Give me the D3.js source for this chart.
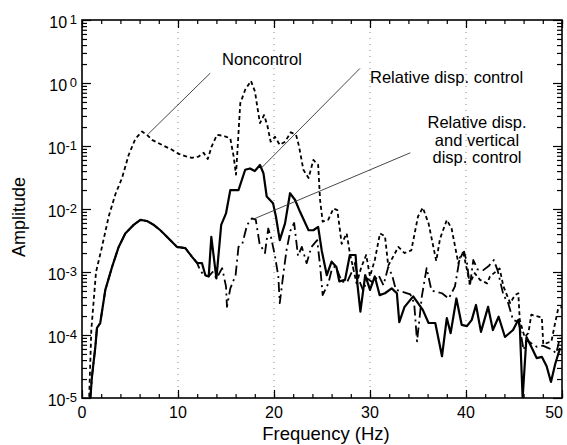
<!DOCTYPE html>
<html>
<head>
<meta charset="utf-8">
<script src="https://cdn.jsdelivr.net/npm/d3@7"></script>
<style>
  html, body { margin: 0; padding: 0; background: #fff; }
  svg { display: block; font-family: "Liberation Sans", Arial, Helvetica, sans-serif; }
</style>
</head>
<body>
<svg id="chart" width="567" height="445"></svg>
<script>
// ---------------- DATA ----------------
const xTicks = [0, 10, 20, 30, 40, 50];
const yDecades = [-5, -4, -3, -2, -1, 0, 1];
const xLabel = "Frequency (Hz)";
const yLabel = "Amplitude";

const noncontrolFreq = [0.75,0.97,1.46,2.08,2.78,3.47,4.17,4.86,5.56,6.25,6.77,7.29,8.33,9.38,10.07,10.76,11.46,12.15,12.67,13.1,13.5,14.06,14.76,15.45,15.8,16.04,16.49,17.0,17.6,18.02,18.26,18.54,18.96,19.3,19.65,20.1,20.6,21.15,21.75,22.3,22.6,23.06,23.6,24.1,24.6,24.8,25.07,25.66,26.2,26.6,27.05,27.57,27.9,28.6,29.1,29.6,30.0,30.5,31.04,31.56,31.9,32.4,32.95,33.6,34.3,35.0,35.5,36.1,36.9,37.3,38.0,38.5,39.2,39.7,40.4,40.9,41.46,42.2,42.5,43.5,43.9,44.6,45.1,45.45,45.6,46.1,46.5,46.8,47.9,48.05,48.9,49.2,49.6,50.0];
const noncontrolAmp = [1.05e-5,1.2e-4,1.0e-3,2.5e-3,7.6e-3,1.7e-2,3.1e-2,7.2e-2,0.13,0.17,0.15,0.125,0.104,0.087,0.075,0.069,0.065,0.068,0.078,0.062,0.098,0.15,0.145,0.132,0.068,0.035,0.48,0.78,1.08,0.73,0.42,0.23,0.31,0.215,0.117,0.14,0.104,0.117,0.165,0.15,0.1,0.042,0.031,0.06,0.05,0.0139,0.0063,0.0068,0.0102,0.0096,0.0028,0.0041,0.002,0.00066,0.0012,0.00186,0.00085,0.00155,0.0041,0.0037,0.00126,0.00174,0.0025,0.002,0.0022,0.0076,0.0105,0.0059,0.0015,0.0034,0.0067,0.0049,0.00138,0.0021,0.00066,0.00096,0.00075,0.00066,0.00085,0.00114,0.00059,0.00032,0.00043,0.00046,0.000174,9.3e-5,1.07e-4,2.1e-4,1.9e-4,7.1e-5,7.9e-5,1.35e-4,2.6e-4,2.8e-4];

const relFreq = [0.87,1.04,1.39,1.56,1.9,2.43,3.13,3.82,4.51,5.38,6.08,6.77,7.47,8.16,9.03,9.9,10.76,11.46,11.98,12.5,12.85,13.2,13.47,14.0,14.5,15.0,15.45,16.3,17.0,17.5,18.0,18.54,18.9,19.24,19.9,20.2,20.6,21.15,21.67,22.2,22.7,23.6,24.1,24.6,24.97,25.5,26.0,26.5,26.8,27.4,27.9,28.5,28.7,29.0,29.5,30.0,30.5,31.0,31.56,32.26,32.8,33.05,33.6,34.5,35.5,36.1,36.8,37.5,38.0,38.4,39.0,39.55,40.1,40.6,41.04,41.56,42.3,42.8,43.4,44.06,44.9,45.45,45.6,45.9,46.3,46.8,47.36,47.9,48.4,48.85,49.3,49.8];
const relAmp = [1.0e-5,2.2e-5,6.5e-5,1.3e-4,1.55e-4,5.2e-4,1.2e-3,2.5e-3,4.1e-3,5.6e-3,6.7e-3,6.45e-3,5.6e-3,4.6e-3,3.4e-3,2.5e-3,2.4e-3,1.74e-3,1.4e-3,1.38e-3,8.9e-4,8.5e-4,3.6e-3,7.9e-4,5.6e-3,8.5e-3,0.02,0.02,0.042,0.044,0.04,0.05,0.037,0.0158,0.0123,0.0076,0.0032,0.0059,0.0178,0.0139,0.0091,0.0046,0.0046,0.0052,0.0022,0.00089,0.00146,0.0012,0.00071,0.00075,0.00186,0.00186,0.00062,0.000235,0.00089,0.00052,0.00085,0.00043,0.00046,0.00055,0.00046,0.00016,0.00028,0.00041,0.00025,0.000155,0.000155,4.6e-5,1.86e-4,1.07e-4,3.8e-4,1.45e-4,1.38e-4,1.74e-4,3.0e-4,1.12e-4,2.8e-4,1.2e-4,1.95e-4,9.3e-5,1.2e-4,1.74e-4,1.4e-4,1.0e-5,9.3e-5,6.5e-5,4.3e-5,4.5e-5,3.2e-5,1.8e-5,3.5e-5,6.2e-5];

const relVertFreq = [0.87,1.04,1.39,1.56,1.9,2.43,3.13,3.82,4.51,5.38,6.08,6.77,7.47,8.16,9.03,9.9,10.76,11.46,11.98,12.3,12.7,13.2,13.6,14.0,14.6,15.0,15.1,15.45,16.0,16.3,16.7,17.2,17.7,18.1,18.5,19.06,19.4,19.7,20.1,20.45,20.6,21.0,21.3,21.7,22.1,22.5,22.9,23.4,23.9,24.5,24.8,25.07,25.66,26.0,26.4,27.05,27.6,28.1,28.4,28.8,29.3,29.7,30.3,30.9,31.4,31.9,32.3,32.7,33.3,34.2,34.6,34.9,35.4,35.9,36.4,37.5,38.2,38.85,39.4,39.8,40.1,40.4,40.76,41.2,41.8,42.4,42.9,43.3,43.9,44.4,44.9,45.5,46.0,46.3,46.8,47.36,48.0,48.6,49.0,49.4,49.8];
const relVertAmp = [1.0e-5,2.2e-5,6.5e-5,1.3e-4,1.55e-4,5.2e-4,1.2e-3,2.5e-3,4.1e-3,5.6e-3,6.7e-3,6.45e-3,5.6e-3,4.6e-3,3.4e-3,2.5e-3,2.4e-3,1.74e-3,1.4e-3,1.07e-3,8.9e-4,8.5e-4,1.0e-3,7.9e-4,1.15e-3,5.9e-4,2.8e-4,5.5e-4,8.9e-4,2.5e-3,2.8e-3,5.6e-3,7.1e-3,6.8e-3,2.8e-3,2.0e-3,4.9e-3,3.5e-3,1.8e-3,8.5e-4,3.2e-4,1.0e-3,2.2e-3,4.5e-3,6.0e-3,1.8e-3,2.5e-3,1.38e-3,2.5e-3,3.2e-3,1.26e-3,4.3e-4,6.6e-4,1.07e-3,1.26e-3,7.1e-4,6.8e-4,1.0e-3,1.4e-3,7.9e-4,5.0e-4,7.9e-4,6.8e-4,8.9e-4,6.2e-4,1.2e-3,8.9e-4,5.2e-4,4.9e-4,4.4e-4,3.2e-4,7.9e-5,4.1e-4,1.15e-3,5.1e-4,4.6e-4,3.8e-4,5.9e-4,1.86e-3,2.1e-3,1.4e-3,5.9e-4,1.55e-3,1.1e-3,1.07e-3,1.26e-3,1.55e-3,1.05e-3,4.3e-4,3.2e-4,1.74e-4,1.6e-4,5.8e-5,8.3e-5,7.4e-5,6.5e-5,6.8e-5,6.2e-5,5.8e-5,5.1e-5,9.3e-5];

const seriesNames = ["Noncontrol", "Relative disp. control", "Relative disp. and vertical disp. control"];

const annoNonLines = ["Noncontrol"];
const annoRelLines = ["Relative disp. control"];
const annoRelVertLines = ["Relative disp.", "and vertical", "disp. control"];

// ---------------- CHART ----------------
const svg = d3.select("#chart");
const M = {left: 82, right: 562, top: 20, bottom: 398};
const x = d3.scaleLinear().domain([0, 50]).range([M.left, M.right]);
const y = d3.scaleLog().domain([1e-5, 10]).range([M.bottom, M.top]);

svg.append("defs").append("clipPath").attr("id", "clip")
  .append("rect").attr("x", M.left).attr("y", M.top)
  .attr("width", M.right - M.left).attr("height", M.bottom - M.top);

// dotted vertical grid
svg.append("g").selectAll("line").data(xTicks.slice(1, -1)).join("line")
  .attr("x1", d => x(d)).attr("x2", d => x(d))
  .attr("y1", M.top).attr("y2", M.bottom)
  .attr("stroke", "#888").attr("stroke-width", 1).attr("stroke-dasharray", "1,5");

const minorY = [];
yDecades.slice(0, -1).forEach(e => { for (let k = 2; k <= 9; k++) minorY.push(k * Math.pow(10, e)); });
const majorY = yDecades.map(e => Math.pow(10, e));
const minorX = d3.range(0, 51, 2);

function styleAxis(g) {
  g.select(".domain").remove();
  g.selectAll(".tick line").attr("stroke", "#000").attr("stroke-width", 1.2);
  g.selectAll(".tick text").remove();
}
svg.append("g").attr("transform", `translate(0,${M.bottom})`)
  .call(d3.axisBottom(x).tickValues(minorX).tickSize(-4)).call(styleAxis);
svg.append("g").attr("transform", `translate(0,${M.bottom})`)
  .call(d3.axisBottom(x).tickValues(xTicks).tickSize(-8)).call(styleAxis);
svg.append("g").attr("transform", `translate(0,${M.top})`)
  .call(d3.axisTop(x).tickValues(minorX).tickSize(-4)).call(styleAxis);
svg.append("g").attr("transform", `translate(0,${M.top})`)
  .call(d3.axisTop(x).tickValues(xTicks).tickSize(-8)).call(styleAxis);
svg.append("g").attr("transform", `translate(${M.left},0)`)
  .call(d3.axisLeft(y).tickValues(minorY).tickSize(-5)).call(styleAxis);
svg.append("g").attr("transform", `translate(${M.left},0)`)
  .call(d3.axisLeft(y).tickValues(majorY).tickSize(-9)).call(styleAxis);
svg.append("g").attr("transform", `translate(${M.right},0)`)
  .call(d3.axisRight(y).tickValues(minorY).tickSize(-5)).call(styleAxis);
svg.append("g").attr("transform", `translate(${M.right},0)`)
  .call(d3.axisRight(y).tickValues(majorY).tickSize(-9)).call(styleAxis);

// frame
svg.append("rect").attr("x", M.left).attr("y", M.top)
  .attr("width", M.right - M.left).attr("height", M.bottom - M.top)
  .attr("fill", "none").attr("stroke", "#000").attr("stroke-width", 1.6);

// x tick labels (last one kept inside the page)
svg.append("g").selectAll("text").data(xTicks).join("text")
  .attr("x", (d, i) => i === xTicks.length - 1 ? x(d) + 1 : x(d))
  .attr("y", M.bottom + 20)
  .attr("text-anchor", (d, i) => i === xTicks.length - 1 ? "end" : "middle")
  .attr("font-size", 16).attr("fill", "#000")
  .text(d => d);

// y tick labels 10^e
const yl = svg.append("g").selectAll("text").data(yDecades).join("text")
  .attr("x", 77).attr("y", d => y(Math.pow(10, d)) + 8)
  .attr("text-anchor", "end").attr("font-size", 16).attr("fill", "#000");
yl.append("tspan").text("10");
yl.append("tspan").attr("dy", -4).attr("font-size", 13)
  .text(d => d >= 0 ? "\u2009" + d : "-" + Math.abs(d));

// axis titles
svg.append("text").attr("x", 326).attr("y", 440)
  .attr("text-anchor", "middle").attr("font-size", 18.5).text(xLabel);
svg.append("text").attr("transform", `translate(25,${(M.top + M.bottom) / 2 + 8}) rotate(-90)`)
  .attr("text-anchor", "middle").attr("font-size", 18).text(yLabel);

// curves
const line = d3.line().x(d => x(d[0])).y(d => y(d[1]));
const plot = svg.append("g").attr("clip-path", "url(#clip)");
const curves = [
  {f: noncontrolFreq, a: noncontrolAmp, dash: "4,3", w: 1.8},
  {f: relFreq, a: relAmp, dash: null, w: 2.2},
  {f: relVertFreq, a: relVertAmp, dash: "10,4,2,4", w: 1.8}
];
curves.forEach(c => {
  plot.append("path").datum(d3.zip(c.f, c.a))
    .attr("d", line).attr("fill", "none").attr("stroke", "#000")
    .attr("stroke-width", c.w).attr("stroke-linejoin", "round")
    .attr("stroke-dasharray", c.dash);
});

// leader lines from curve points to labels
const leaders = [
  {from: [6.9, 0.155], to: [13.35, 1.43]},
  {from: [18.7, 0.045], to: [28.95, 1.7]},
  {from: [17.75, 0.0068], to: [34.2, 0.078]}
];
svg.append("g").selectAll("line").data(leaders).join("line")
  .attr("x1", d => x(d.from[0])).attr("y1", d => y(d.from[1]))
  .attr("x2", d => x(d.to[0])).attr("y2", d => y(d.to[1]))
  .attr("stroke", "#333").attr("stroke-width", 0.9);

svg.append("text").attr("x", 222).attr("y", 65).attr("font-size", 16.5).text(annoNonLines[0]);
svg.append("text").attr("x", 370).attr("y", 83).attr("font-size", 16.5).text(annoRelLines[0]);
svg.append("g").selectAll("text").data(annoRelVertLines).join("text")
  .attr("x", 477).attr("y", (d, i) => 128 + i * 17.5)
  .attr("text-anchor", "middle").attr("font-size", 16.5).text(d => d);
</script>
</body>
</html>
